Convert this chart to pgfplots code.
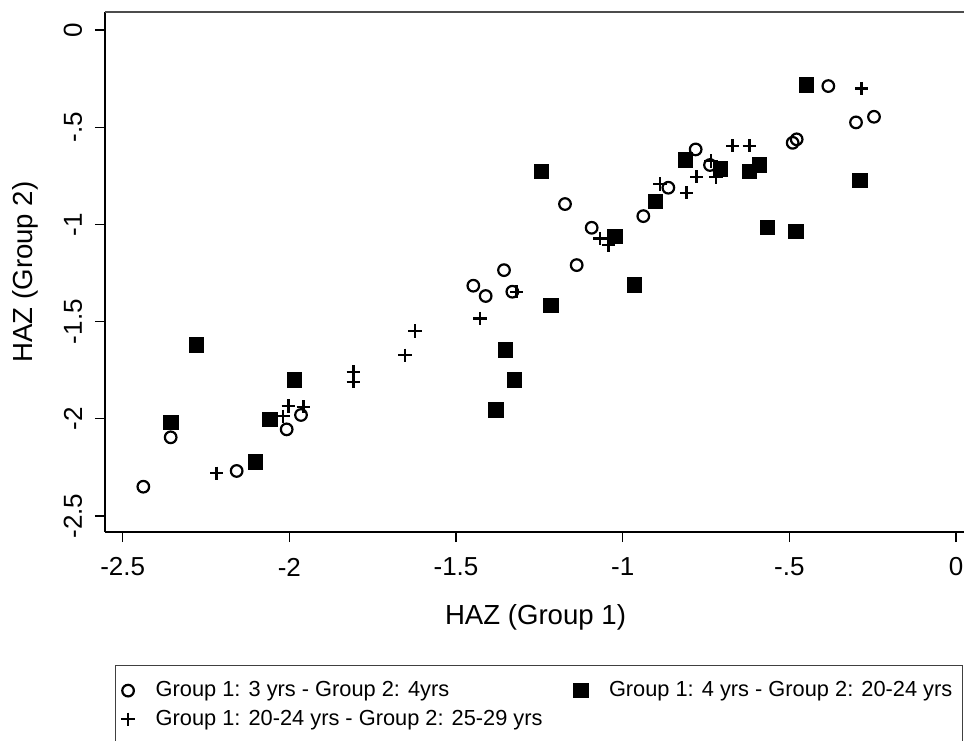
\documentclass[border=0pt]{standalone}
\usepackage{fontspec}
\setmainfont{Liberation Sans}
\usepackage{pgfplots}
\pgfplotsset{compat=1.18}

\begin{document}
\begin{tikzpicture}
% crop: the reference is cut off at the right and bottom edges
\useasboundingbox (-52.5pt,-104pt) rectangle (429.5pt,266pt);
\begin{axis}[
    scale only axis,
    width=430.5pt, height=260pt,
    xmin=-2.553, xmax=0.03,
    ymin=-2.582, ymax=0.093,
    axis lines=left,
    axis line style={-, line width=1pt, black},
    tick align=outside,
    major tick length=5pt,
    tick style={black, line width=0.6pt},
    xtick={-2.5,-2,-1.5,-1,-0.5,0},
    xticklabels={-2.5,-2,-1.5,-1,-.5,0},
    ytick={-2.5,-2,-1.5,-1,-0.5,0},
    yticklabels={-2.5,-2,-1.5,-1,-.5,0},
    tick label style={font=\fontsize{13pt}{15pt}\selectfont},
    xticklabel style={anchor=center, yshift=-12.5pt},
    yticklabel style={anchor=center, xshift=-11pt, rotate=90},
    xlabel={HAZ (Group 1)},
    ylabel={HAZ (Group 2)},
    label style={font=\fontsize{13.8pt}{16pt}\selectfont},
    xlabel style={at={(axis description cs:0.5,-0.1635)}, anchor=center},
    ylabel style={at={(axis description cs:-0.0929,0.5)}, anchor=center},
    legend columns=2,
    legend style={
        at={(axis description cs:0.0116,-0.2558)}, anchor=north west,
        draw=black!75, line width=0.5pt,
        font=\fontsize{10.9pt}{13pt}\selectfont,
        inner xsep=3pt, inner ysep=6pt,
        cells={anchor=west},
        /tikz/every odd column/.append style={column sep=8.5pt},
        /tikz/every even column/.append style={column sep=13.5pt},
        row sep=1.2pt},
]
\draw[black!70, line width=0.7pt] (rel axis cs:0,1) -- (rel axis cs:1,1);

% Group 1: 3 yrs - Group 2: 4yrs
\addplot[only marks, mark=o, mark size=2.9pt, mark options={line width=1.1pt, black}] coordinates {
(-0.383,-0.288) (-0.300,-0.475) (-0.246,-0.446) (-0.490,-0.580) (-0.478,-0.562)
(-0.781,-0.614) (-0.738,-0.694) (-0.863,-0.811) (-1.173,-0.895) (-0.938,-0.957)
(-1.093,-1.017) (-1.138,-1.209) (-1.356,-1.235) (-1.411,-1.368) (-1.331,-1.346)
(-1.448,-1.315) (-2.438,-2.349) (-2.356,-2.095) (-2.158,-2.268) (-2.008,-2.054)
(-1.965,-1.980)
};
\addlegendentry{Group 1: 3 yrs - Group 2: 4yrs}

% Group 1: 4 yrs - Group 2: 20-24 yrs
\addplot[only marks, mark=square*, mark size=3.6pt, mark options={line width=0.5pt, black, fill=black}] coordinates {
(-0.448,-0.283) (-1.243,-0.729) (-0.811,-0.669) (-0.706,-0.715) (-0.620,-0.729)
(-0.590,-0.694) (-0.288,-0.775) (-0.901,-0.883) (-1.023,-1.063) (-0.566,-1.017)
(-0.480,-1.037) (-0.965,-1.312) (-1.215,-1.418) (-1.351,-1.646) (-1.325,-1.800)
(-1.380,-1.955) (-2.279,-1.620) (-1.985,-1.800) (-2.355,-2.018) (-2.058,-2.003)
(-2.101,-2.221)
};
\addlegendentry{Group 1: 4 yrs - Group 2: 20-24 yrs}

% Group 1: 20-24 yrs - Group 2: 25-29 yrs
\addplot[only marks, mark=+, mark size=3.3pt, mark options={line width=1.2pt, black}] coordinates {
(-0.283,-0.300) (-0.670,-0.595) (-0.620,-0.595) (-0.735,-0.674) (-0.720,-0.756)
(-0.778,-0.755) (-0.808,-0.837) (-0.888,-0.792) (-1.068,-1.072) (-1.043,-1.106)
(-1.318,-1.346) (-1.428,-1.483) (-1.623,-1.548) (-1.653,-1.672) (-1.808,-1.758)
(-1.808,-1.809) (-2.003,-1.934) (-1.958,-1.938) (-2.019,-1.986) (-2.218,-2.280)
};
\addlegendentry{Group 1: 20-24 yrs - Group 2: 25-29 yrs}
\end{axis}
\end{tikzpicture}
\end{document}
